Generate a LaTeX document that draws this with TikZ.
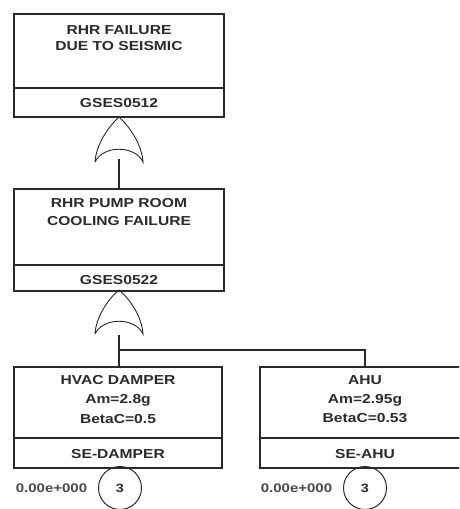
\documentclass[tikz,border=0pt]{standalone}
\usepackage{fontspec}
\setmainfont{Liberation Sans}[FakeStretch=1.2]
\definecolor{ink}{HTML}{2A2A2A}
\tikzset{
  box/.style={draw=ink, line width=1.3pt, rectangle, inner sep=0pt, minimum width=210pt},
  lbl/.style={font=\bfseries\fontsize{13}{15}\selectfont, text=ink, inner sep=0pt},
  small/.style={font=\bfseries\fontsize{12.5}{14}\selectfont, text=ink!85, inner sep=0pt},
  conn/.style={draw=ink, line width=1.8pt},
  gate/.style={draw=ink, line width=0.9pt},
  num/.style={draw=ink, line width=1pt, circle, minimum size=43pt, inner sep=0pt, font=\bfseries\fontsize{12}{14}\selectfont, text=ink},
}
\begin{document}
\begin{tikzpicture}[x=1pt,y=-1pt]
\clip (0,0) rectangle (459,509);
\fill[white] (0,0) rectangle (459,509);

% Box 1
\node[box, minimum height=74pt] (b1) at (119,51) {};
\node[box, minimum height=29pt] (b1id) at (119,102.5) {};
\node[lbl] (t1a) at (119,30) {RHR FAILURE};
\node[lbl] (t1b) at (119,46) {DUE TO SEISMIC};
\node[lbl] (t1c) at (119,103) {GSES0512};

% Gate 1
\coordinate (g1a) at (119,117);
\coordinate (g1l) at (95,162);
\coordinate (g1r) at (143,162);
\coordinate (g1out) at (119,159);
\draw[gate] (g1l) .. controls (96,145) and (108,127) .. (g1a)
  .. controls (130,127) and (142,145) .. (g1r)
  .. controls (135,145) and (103,145) .. (g1l);

% Box 2
\node[box, minimum height=76pt] (b2) at (119,227) {};
\node[box, minimum height=26pt] (b2id) at (119,278) {};
\node[lbl] (t2a) at (119,203) {RHR PUMP ROOM};
\node[lbl] (t2b) at (119,221) {COOLING FAILURE};
\node[lbl] (t2c) at (119,280) {GSES0522};

\draw[conn] (g1out) -- (b2.north);

% Gate 2
\coordinate (g2a) at (119,290);
\coordinate (g2l) at (95,334);
\coordinate (g2r) at (143,334);
\coordinate (g2out) at (119,335);
\coordinate (j) at (119,350);
\draw[gate] (g2l) .. controls (96,317) and (108,299) .. (g2a)
  .. controls (130,299) and (142,317) .. (g2r)
  .. controls (135,317) and (103,317) .. (g2l);

% Box 3
\node[box, minimum width=208pt, minimum height=71pt] (b3) at (118,402.5) {};
\node[box, minimum width=208pt, minimum height=30pt] (b3id) at (118,453) {};
\node[lbl] (t3a) at (118,380) {HVAC DAMPER};
\node[lbl] (t3b) at (118,400) {Am=2.8g};
\node[lbl] (t3c) at (118,419) {BetaC=0.5};
\node[lbl] (t3d) at (118,454) {SE-DAMPER};

% Box 4
\node[box, minimum height=71pt] (b4) at (365,402.5) {};
\node[box, minimum height=30pt] (b4id) at (365,453) {};
\node[lbl] (t4a) at (365,380) {AHU};
\node[lbl] (t4b) at (365,400) {Am=2.95g};
\node[lbl] (t4c) at (365,418) {BetaC=0.53};
\node[lbl] (t4d) at (365,454) {SE-AHU};

\draw[conn] (g2out) -- (g2out |- b3.north);
\draw[conn, line width=1.5pt] (j) -| (b4.north);

% Circles and probabilities
\node[num] (c3) at (120,488) {3};
\node[num] (c4) at (365,488) {3};
\node[small] (p3) at (51.5,488) {0.00e+000};
\node[small] (p4) at (296.5,488) {0.00e+000};
\end{tikzpicture}
\end{document}
